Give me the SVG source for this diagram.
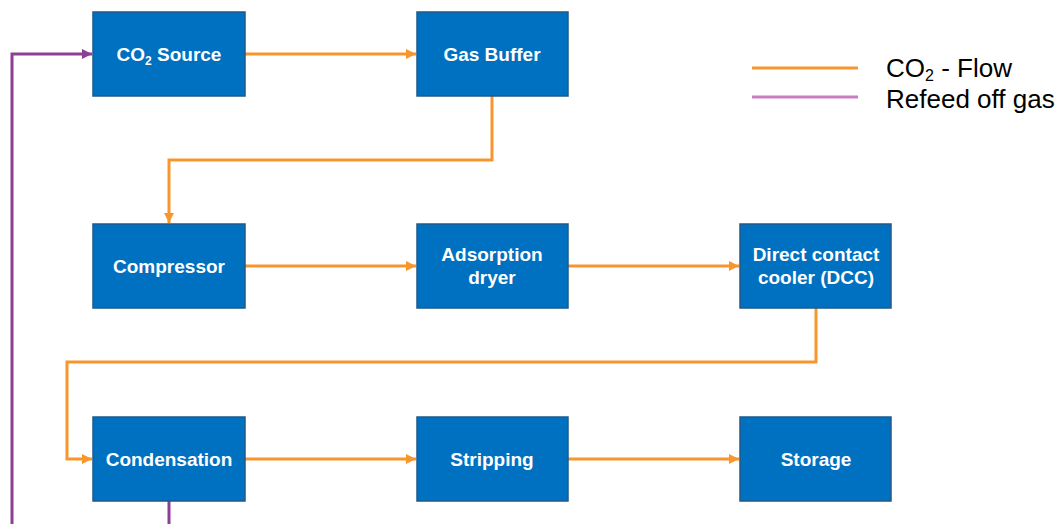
<svg xmlns="http://www.w3.org/2000/svg" width="1063" height="524" viewBox="0 0 1063 524">
<defs>
<style>
.box{fill:#0070C0;stroke:#1F5A8C;stroke-width:1.5}
.lbl{font-family:"Liberation Sans",Arial,sans-serif;font-weight:bold;font-size:19px;fill:#fff;text-anchor:middle}
.co2{fill:none;stroke:#F7962C;stroke-width:3}
.ref{fill:none;stroke:#8C3F94;stroke-width:3}
.leg{font-family:"Liberation Sans",Arial,sans-serif;font-size:26px;fill:#000}
</style>
<marker id="ao" viewBox="0 0 10 10" refX="10" refY="5" markerWidth="10" markerHeight="10" markerUnits="userSpaceOnUse" orient="auto"><path d="M0,0L10,5L0,10z" fill="#F7962C"/></marker>
<marker id="ap" viewBox="0 0 10 10" refX="10" refY="5" markerWidth="10" markerHeight="10" markerUnits="userSpaceOnUse" orient="auto"><path d="M0,0L10,5L0,10z" fill="#8C3F94"/></marker>
</defs>
<rect width="1063" height="524" fill="#fff"/>
<g id="connectors">
<path class="co2" d="M245,54H416" marker-end="url(#ao)"/>
<path class="co2" d="M492,96V160H169V223" marker-end="url(#ao)"/>
<path class="co2" d="M245,266H416" marker-end="url(#ao)"/>
<path class="co2" d="M568,266H739" marker-end="url(#ao)"/>
<path class="co2" d="M816,308V362H67V459H92" marker-end="url(#ao)"/>
<path class="co2" d="M245,459H416" marker-end="url(#ao)"/>
<path class="co2" d="M568,459H739" marker-end="url(#ao)"/>
<path class="ref" d="M169,501V524"/>
<path class="ref" d="M12,524V54H92" marker-end="url(#ap)"/>
</g>
<g id="co2-source"><rect class="box" x="93" y="12" width="152" height="84"/><text class="lbl" x="169" y="61">CO<tspan font-size="12" dy="4">2</tspan><tspan dy="-4"> Source</tspan></text></g>
<g id="gas-buffer"><rect class="box" x="417" y="12" width="151" height="84"/><text class="lbl" x="492" y="61">Gas Buffer</text></g>
<g id="compressor"><rect class="box" x="93" y="224" width="152" height="84"/><text class="lbl" x="169" y="273">Compressor</text></g>
<g id="adsorption-dryer"><rect class="box" x="417" y="224" width="151" height="84"/><text class="lbl" x="492" y="261">Adsorption</text><text class="lbl" x="492" y="284">dryer</text></g>
<g id="dcc"><rect class="box" x="740" y="224" width="151" height="84"/><text class="lbl" x="816" y="261">Direct contact</text><text class="lbl" x="816" y="284">cooler (DCC)</text></g>
<g id="condensation"><rect class="box" x="93" y="417" width="152" height="84"/><text class="lbl" x="169" y="466">Condensation</text></g>
<g id="stripping"><rect class="box" x="417" y="417" width="151" height="84"/><text class="lbl" x="492" y="466">Stripping</text></g>
<g id="storage"><rect class="box" x="740" y="417" width="151" height="84"/><text class="lbl" x="816" y="466">Storage</text></g>
<g id="legend">
<line x1="752" y1="68" x2="858" y2="68" stroke="#F7962C" stroke-width="3"/>
<line x1="752" y1="97" x2="858" y2="97" stroke="#C97DC3" stroke-width="3"/>
<text class="leg" x="886" y="77">CO<tspan font-size="16" dy="4">2</tspan><tspan dy="-4"> - Flow</tspan></text>
<text class="leg" x="886" y="108">Refeed off gas</text>
</g>
</svg>
